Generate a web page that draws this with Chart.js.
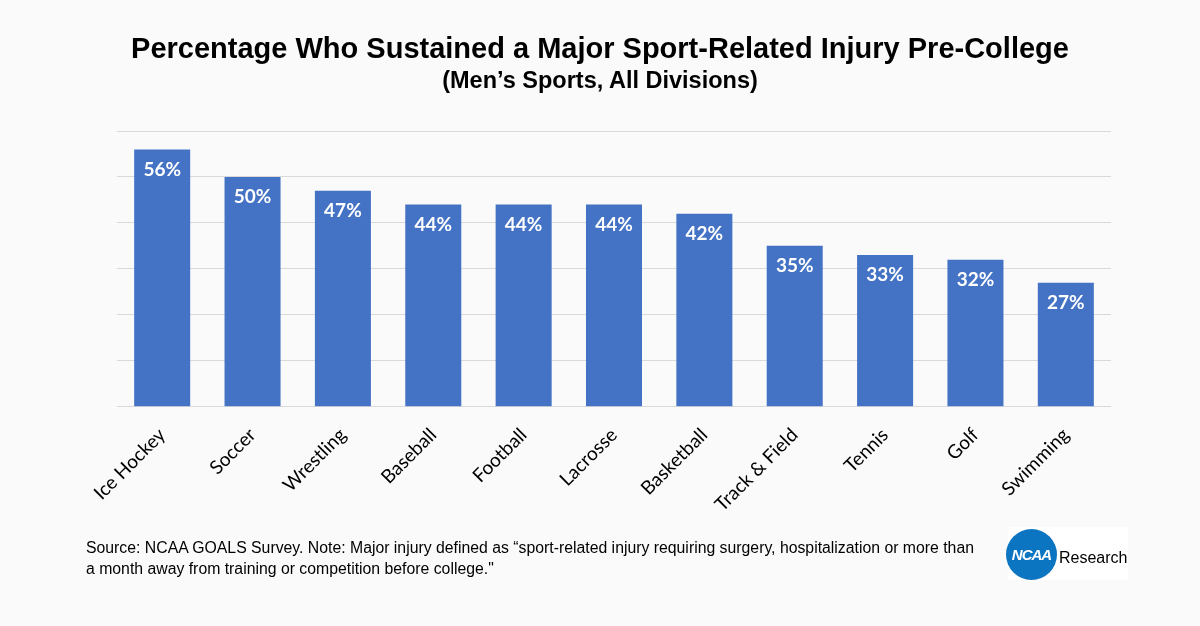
<!DOCTYPE html>
<html>
<head>
<meta charset="utf-8">
<script src="https://cdn.jsdelivr.net/npm/chart.js@4"></script>
<style>
  html, body { margin: 0; padding: 0; background: #fafafa; }
  #wrap { position: relative; width: 1200px; height: 626px; overflow: hidden; }
  #chart { position: absolute; left: 0; top: 0; }
  .head {
    position: absolute; left: 0; width: 1200px; text-align: center; color: #000;
    font-family: "Liberation Sans", Arial, sans-serif; font-weight: bold;
  }
  #title { top: 30px; font-size: 29px; line-height: 36px; }
  #subtitle { top: 66px; font-size: 23.5px; line-height: 28px; }
  #note {
    position: absolute; left: 86px; top: 537px; width: 895px;
    font: 15.8px "Liberation Sans", Arial, sans-serif; color: #000; line-height: 21px;
  }
  #logo {
    position: absolute; left: 1008px; top: 527px; width: 120px; height: 53px;
    background: #fff;
  }
  #logo .dot {
    position: absolute; left: -2px; top: 2px; width: 51px; height: 51px; border-radius: 50%;
    background: #0b75c2; color: #fff; text-align: center;
    font: italic bold 15px "Liberation Sans", Arial, sans-serif; line-height: 51px; letter-spacing: -1px;
  }
  #logo .txt {
    position: absolute; left: 51px; top: 22px;
    font: 16px "Liberation Sans", Arial, sans-serif; color: #000;
  }
</style>
</head>
<body>
<div id="wrap">
  <canvas id="chart" width="1200" height="626"></canvas>
  <div class="head" id="title">Percentage Who Sustained a Major Sport-Related Injury Pre-College</div>
  <div class="head" id="subtitle">(Men’s Sports, All Divisions)</div>
  <div id="note">Source: NCAA GOALS Survey. Note: Major injury defined as “sport-related injury requiring surgery, hospitalization or more than a month away from training or competition before college."</div>
  <div id="logo"><div class="dot">NCAA</div><div class="txt">Research</div></div>
</div>
<script>
'use strict';

// data
const sports = ['Ice Hockey', 'Soccer', 'Wrestling', 'Baseball', 'Football', 'Lacrosse', 'Basketball', 'Track & Field', 'Tennis', 'Golf', 'Swimming'];
const injuryPct = [56, 50, 47, 44, 44, 44, 42, 35, 33, 32, 27];
const yTicks = [0, 10, 20, 30, 40, 50, 60];

// white % labels inside the top of each bar
const barLabels = {
    id: 'barLabels',
    afterDatasetsDraw(chart) {
        const ctx = chart.ctx;
        const meta = chart.getDatasetMeta(0);
        ctx.save();
        ctx.fillStyle = '#ffffff';
        ctx.font = 'bold 19px Lato, "Open Sans", sans-serif';
        ctx.textAlign = 'center';
        ctx.textBaseline = 'middle';
        meta.data.forEach(function (bar, i) {
            ctx.fillText(injuryPct[i] + '%', bar.x, bar.y + 20);
        });
        ctx.restore();
    }
};

const canvas = document.getElementById('chart');
const context = canvas.getContext('2d');

const chart = new Chart(context, {
    type: 'bar',
    data: {
        labels: sports,
        datasets: [{
            label: 'Injured',
            data: injuryPct,
            backgroundColor: '#4472c4',
            categoryPercentage: 1,
            barPercentage: 0.62
        }]
    },
    options: {
        responsive: false,
        animation: false,
        layout: { padding: { left: 117, right: 89, top: 131, bottom: 101 } },
        plugins: {
            legend: { display: false },
            tooltip: { enabled: false }
        },
        scales: {
            x: {
                grid: { display: false },
                border: { display: false },
                ticks: {
                    color: '#000',
                    minRotation: 45,
                    maxRotation: 45,
                    padding: 9,
                    font: { family: 'Lato, "Open Sans", sans-serif', size: 19 }
                }
            },
            y: {
                min: 0,
                max: 60,
                afterBuildTicks(axis) {
                    axis.ticks = yTicks.map(function (v) { return { value: v }; });
                },
                grid: { color: '#d9d9d9', drawTicks: false },
                border: { display: false },
                ticks: { display: false }
            }
        }
    },
    plugins: [barLabels]
});
</script>
</body>
</html>
